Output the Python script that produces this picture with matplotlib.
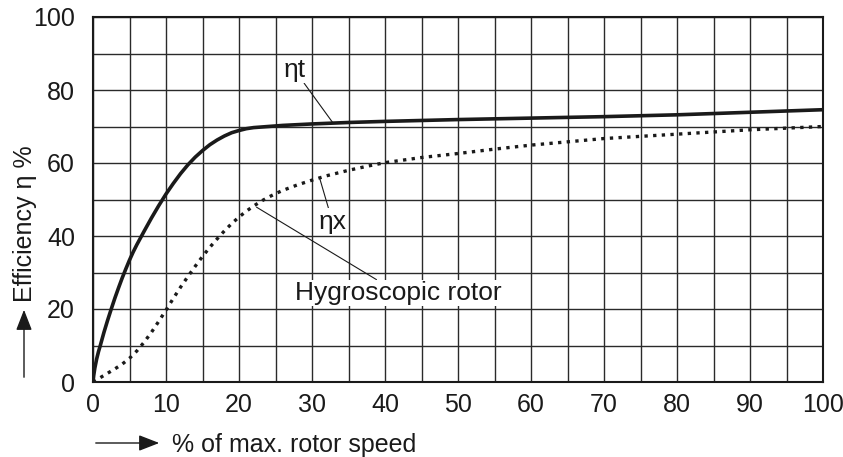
import matplotlib
matplotlib.use("Agg")
import matplotlib.pyplot as plt
from matplotlib.ticker import MultipleLocator

plt.rcParams['font.family'] = ['Liberation Sans', 'DejaVu Sans']

# ηt (solid)
speed_t = [0, 0.1, 0.25, 0.5, 0.75, 1, 1.5, 2, 2.5, 3, 3.5, 4, 4.5, 5, 5.5, 6, 7, 8, 9,
           10, 11, 12, 13, 14, 15, 16, 17, 18, 19, 20, 21, 22, 24, 26, 30, 35, 40, 50,
           60, 70, 80, 90, 100]
eta_t = [0, 1.8, 3.8, 6.3, 8.3, 10, 13.6, 16.9, 20, 23, 25.8, 28.5, 31, 33.4, 35.6, 37.6,
         41.3, 44.9, 48.3, 51.5, 54.4, 57.1, 59.5, 61.6, 63.4, 65, 66.3, 67.4, 68.3,
         68.9, 69.4, 69.7, 70.0, 70.3, 70.7, 71.1, 71.4, 71.9, 72.3, 72.7, 73.2, 73.9,
         74.6]

# ηx (dotted)
speed_x = [0, 1, 2, 3, 4, 5, 6, 7, 8, 9, 10, 11, 12, 13, 14, 15, 16, 17, 18, 19, 20, 21,
           22, 23, 24, 25, 26, 28, 30, 32, 35, 38, 40, 45, 50, 55, 60, 65, 70, 80, 90, 100]
eta_x = [0, 1.2, 2.4, 3.6, 4.9, 6.5, 8.5, 10.9, 13.6, 16.6, 19.7, 22.9, 26.0, 28.9, 31.7,
         34.4, 36.9, 39.2, 41.4, 43.4, 45.2, 46.8, 48.2, 49.5, 50.6, 51.6, 52.5, 54.0,
         55.3, 56.5, 58, 59.3, 60.1, 61.5, 62.6, 63.8, 64.9, 65.8, 66.7, 67.9, 69.1, 70]

x_ticks = [0, 10, 20, 30, 40, 50, 60, 70, 80, 90, 100]
y_ticks = [0, 20, 40, 60, 80, 100]

fig = plt.figure(figsize=(8.43, 4.57), dpi=100)
ax = fig.add_axes([93/843, 1-382/457, 730/843, 365/457])

ax.set_xlim(0, 100)
ax.set_ylim(0, 100)
ax.set_xticks(x_ticks)
ax.set_yticks(y_ticks)
ax.xaxis.set_minor_locator(MultipleLocator(5))
ax.yaxis.set_minor_locator(MultipleLocator(10))
ax.grid(True, which='both', color='#2a2a2a', linewidth=1.0)
ax.set_axisbelow(True)
ax.tick_params(which='both', length=0, labelsize=18, colors='#1a1a1a')
ax.tick_params(axis='x', pad=8)
ax.tick_params(axis='y', pad=13)
for s in ax.spines.values():
    s.set_linewidth(1.5)
    s.set_color('#1a1a1a')

ax.plot(speed_t, eta_t, color='#1a1a1a', linewidth=2.6, solid_joinstyle='round',
        solid_capstyle='round', zorder=3)
ax.plot(speed_x, eta_x, color='#1a1a1a', linewidth=2.4, linestyle=(0, (1, 1.6)),
        dash_capstyle='butt', zorder=3)

box = dict(facecolor='white', edgecolor='none', pad=1)
lp = dict(arrowstyle='-', color='#1a1a1a', linewidth=0.8, shrinkA=0, shrinkB=0)
ax.annotate('ηt', xy=(32.9, 70.9), xytext=(27.6, 85.5), ha='center', va='center',
            fontsize=19, color='#1a1a1a', bbox=box, arrowprops=lp, zorder=4)
ax.annotate('ηx', xy=(31.1, 55.5), xytext=(32.8, 43.9), ha='center', va='center',
            fontsize=19, color='#1a1a1a', bbox=box, arrowprops=lp, zorder=4)
ax.annotate('Hygroscopic rotor', xy=(22.4, 47.9), xytext=(27.7, 24.4), ha='left',
            va='center', fontsize=19, color='#1a1a1a', bbox=box, arrowprops=lp, zorder=4)

# axis labels with arrows
fig.text(172/843, 1-445/457, '% of max. rotor speed', ha='left', va='center',
         fontsize=18, color='#1a1a1a')
fig.add_artist(matplotlib.patches.FancyArrowPatch(
    (93/843, 1-443/457), (162/843, 1-443/457), transform=fig.transFigure,
    arrowstyle='-|>,head_length=0.9,head_width=0.35', mutation_scale=14,
    color='#1a1a1a', linewidth=1.0))
fig.text(25/843, 1-224/457, 'Efficiency η %', ha='center', va='center', rotation=90,
         fontsize=18, color='#1a1a1a')
fig.add_artist(matplotlib.patches.FancyArrowPatch(
    (24/843, 1-380/457), (24/843, 1-307/457), transform=fig.transFigure,
    arrowstyle='-|>,head_length=0.9,head_width=0.35', mutation_scale=14,
    color='#1a1a1a', linewidth=1.0))

fig.savefig('out.png', dpi=100)
